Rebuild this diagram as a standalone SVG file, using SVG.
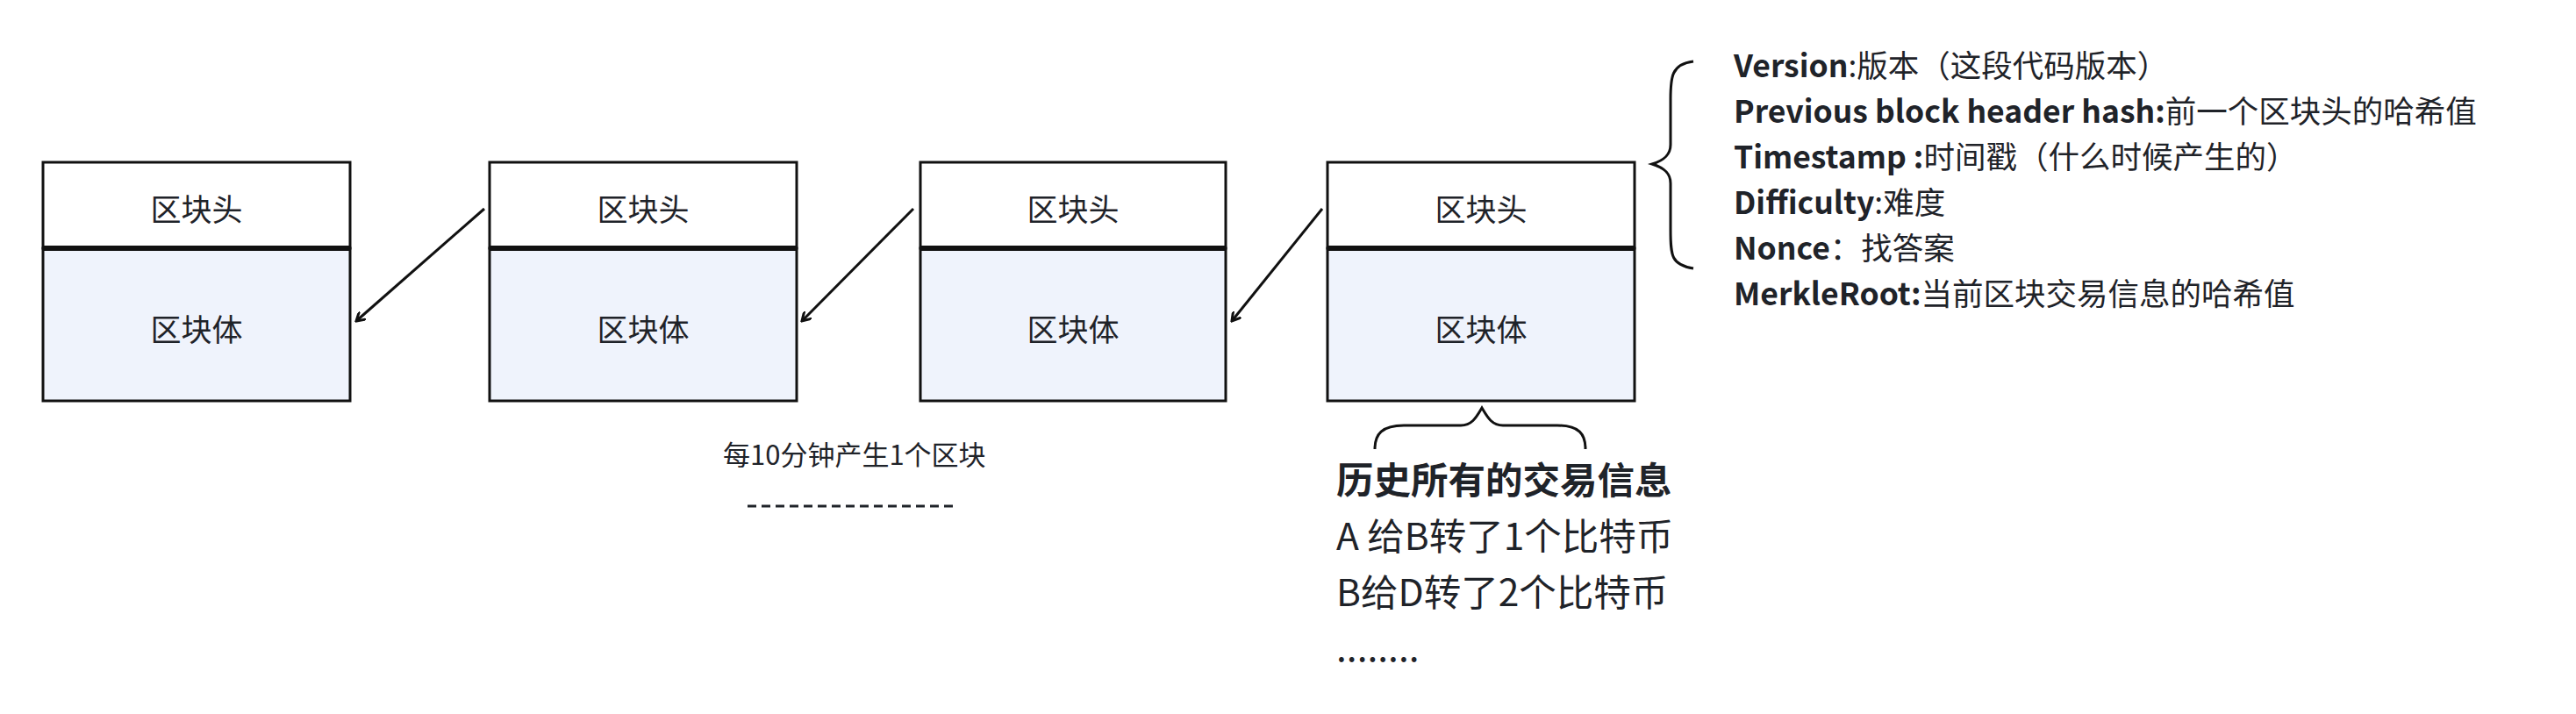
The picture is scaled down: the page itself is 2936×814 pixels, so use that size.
<svg xmlns="http://www.w3.org/2000/svg" width="2936" height="814" viewBox="0 0 2936 814">
<style>
text{font-family:"Noto Sans CJK SC","Noto Sans",sans-serif;fill:#1f2329}
.n{font-size:35px;text-anchor:middle;dominant-baseline:central}
.h{fill:#fff;stroke:#111;stroke-width:3}
.b{fill:#eff3fc;stroke:#111;stroke-width:3}
.d{stroke:#111;stroke-width:6}
.c{fill:none;stroke:#111;stroke-width:3}
.r{font-size:35.5px}
.r tspan.k{font-weight:bold}
</style>
<defs><marker id="a" markerWidth="12" markerHeight="12" refX="10" refY="6" orient="auto" markerUnits="userSpaceOnUse"><path d="M0,0 L10,6 L0,12" fill="none" stroke="#111" stroke-width="3"/></marker></defs>
<g id="block1"><rect class="h" x="49" y="185" width="350" height="98"/><rect class="b" x="49" y="283" width="350" height="174"/><line class="d" x1="49" y1="283" x2="399" y2="283"/><text class="n" x="224" y="236">区块头</text><text class="n" x="224" y="373">区块体</text></g>
<g id="block2"><rect class="h" x="558" y="185" width="350" height="98"/><rect class="b" x="558" y="283" width="350" height="174"/><line class="d" x1="558" y1="283" x2="908" y2="283"/><text class="n" x="733" y="236">区块头</text><text class="n" x="733" y="373">区块体</text></g>
<g id="block3"><rect class="h" x="1049" y="185" width="348" height="98"/><rect class="b" x="1049" y="283" width="348" height="174"/><line class="d" x1="1049" y1="283" x2="1397" y2="283"/><text class="n" x="1223" y="236">区块头</text><text class="n" x="1223" y="373">区块体</text></g>
<g id="block4"><rect class="h" x="1513" y="185" width="350" height="98"/><rect class="b" x="1513" y="283" width="350" height="174"/><line class="d" x1="1513" y1="283" x2="1863" y2="283"/><text class="n" x="1688" y="236">区块头</text><text class="n" x="1688" y="373">区块体</text></g>
<g id="connectors">
<line class="c" x1="552" y1="238" x2="406" y2="366" marker-end="url(#a)"/>
<line class="c" x1="1041" y1="238" x2="914" y2="366" marker-end="url(#a)"/>
<line class="c" x1="1507" y1="238" x2="1404" y2="366" marker-end="url(#a)"/>
<path class="c" stroke-width="5" d="M1930,70 C1905,73 1904,88 1904,113 L1904,165 C1904,177 1896,183 1883,187 C1896,191 1904,197 1904,209 L1904,262 C1904,292 1905,302 1930,306"/>
<path class="c" stroke-width="5" d="M1567,512 C1567,495 1575,485 1600,485 L1665,485 C1678,485 1683,475 1689,465 C1695,475 1700,485 1713,485 L1775,485 C1800,485 1807,495 1807,512"/>
</g>
<g id="header-fields">
<text class="r" x="1976" y="88"><tspan class="k">Version</tspan>:版本（这段代码版本）</text>
<text class="r" x="1976" y="140"><tspan class="k">Previous block header hash:</tspan>前一个区块头的哈希值</text>
<text class="r" x="1976" y="192"><tspan class="k">Timestamp :</tspan>时间戳（什么时候产生的）</text>
<text class="r" x="1976" y="244"><tspan class="k">Difficulty</tspan>:难度</text>
<text class="r" x="1976" y="296"><tspan class="k">Nonce</tspan>：找答案</text>
<text class="r" x="1976" y="348"><tspan class="k">MerkleRoot:</tspan>当前区块交易信息的哈希值</text>
</g>
<g id="body-info">
<text x="1523" y="563" font-size="42.5" font-weight="bold">历史所有的交易信息</text>
<text x="1523" y="627" font-size="42.5">A 给B转了1个比特币</text>
<text x="1523" y="691" font-size="42.5">B给D转了2个比特币</text>
<text x="1523" y="754" font-size="42.5">........</text>
</g>
<g id="note">
<text x="824" y="530" font-size="31">每10分钟产生1个区块</text>
<line x1="852" y1="577" x2="1086" y2="577" stroke="#1f2329" stroke-width="3" stroke-dasharray="10,6"/>
</g>
</svg>
